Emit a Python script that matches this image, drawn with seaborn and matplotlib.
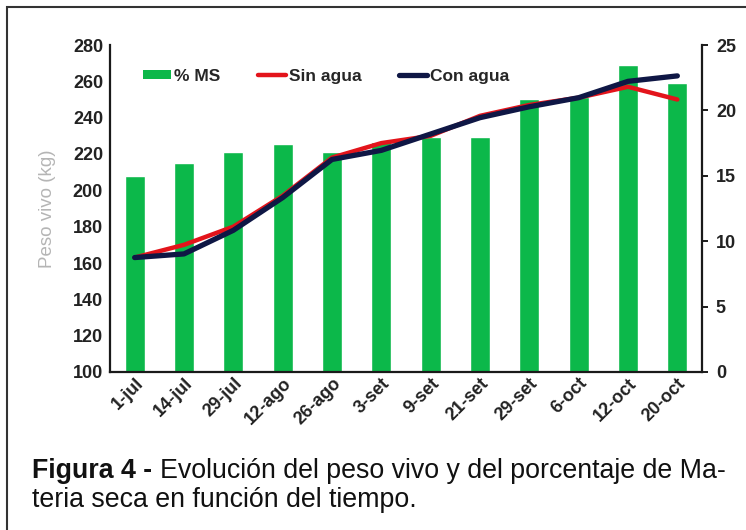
import matplotlib
matplotlib.use("Agg")
import matplotlib.pyplot as plt
import seaborn as sns
import numpy as np
import pandas as pd
from matplotlib.patches import Patch, Rectangle
from matplotlib.lines import Line2D

fechas = ["1-jul", "14-jul", "29-jul", "12-ago", "26-ago", "3-set",
          "9-set", "21-set", "29-set", "6-oct", "12-oct", "20-oct"]
ms_pct = [15.0, 16.0, 16.8, 17.4, 16.8, 17.6, 18.0, 18.0, 20.9, 21.0, 23.5, 22.1]
sin_agua = [163, 170, 180, 197, 218, 226, 230, 241, 247, 251, 257, 250]
con_agua = [163, 165, 178, 196, 217, 222, 231, 240, 246, 251, 260, 263]
left_ticks = list(range(100, 281, 20))
right_ticks = [0, 5, 10, 15, 20, 25]

GREEN = "#0cb84a"
RED = "#e3141b"
NAVY = "#0f1745"

sns.set_style("white")
plt.rcParams["font.family"] = ["Liberation Sans", "DejaVu Sans"]

fig = plt.figure(figsize=(7.46, 5.30), dpi=100)
ax = fig.add_axes([110/746, 1-372/530, (702-110)/746, (372-45)/530])

df = pd.DataFrame({"fecha": fechas, "ms": ms_pct,
                   "sin": sin_agua, "con": con_agua,
                   "pos": np.arange(len(fechas))})

sns.barplot(data=df, x="fecha", y="ms", ax=ax, color=GREEN, width=0.4,
            saturation=1, order=fechas)
ax.set_ylim(0, 25)
ax.set_yticks(right_ticks)
ax.yaxis.tick_right()
ax.set_xlabel("")
ax.set_ylabel("")

ax2 = ax.twinx()
sns.lineplot(data=df, x="pos", y="sin", ax=ax2, color=RED, linewidth=3.2, sort=False)
sns.lineplot(data=df, x="pos", y="con", ax=ax2, color=NAVY, linewidth=3.8, sort=False)
ax2.set_ylim(100, 280)
ax2.set_yticks(left_ticks)
ax2.yaxis.tick_left()
ax2.yaxis.set_label_position("left")
ax2.set_ylabel("Peso vivo (kg)", color="#b5b5b5", fontsize=13.5, labelpad=12)
ax2.set_xlim(-0.5, len(fechas) - 0.5)
ax2.set_xlabel("")

for a in (ax, ax2):
    for s in a.spines.values():
        s.set_visible(False)
for k in ("left", "bottom", "right"):
    ax2.spines[k].set_visible(True)
    ax2.spines[k].set_color("#1a1a1a")
    ax2.spines[k].set_linewidth(1.6)

ax.tick_params(axis="y", right=True, left=False, labelright=True, labelleft=False,
               length=4, width=1.4, labelsize=13, pad=6, color="#1a1a1a")
ax.tick_params(axis="x", bottom=False, length=0, labelsize=13, pad=2)
ax2.tick_params(axis="y", left=True, right=False, labelleft=True, labelright=False,
                length=0, labelsize=13, pad=5)
for lab in ax.get_yticklabels() + ax2.get_yticklabels():
    lab.set_fontweight("bold")
    lab.set_color("#222222")
for lab in ax.get_xticklabels():
    lab.set_rotation(45)
    lab.set_ha("right")
    lab.set_rotation_mode("anchor")
    lab.set_fontweight("bold")
    lab.set_color("#222222")

handles = [Patch(facecolor=GREEN, edgecolor="none"),
           Line2D([], [], color=RED, linewidth=3.2),
           Line2D([], [], color=NAVY, linewidth=3.8)]
leg = ax2.legend(handles, ["% MS", "Sin agua", "Con agua"], ncol=3,
                 loc="upper left", bbox_to_anchor=(0.03, 0.975), frameon=False,
                 prop={"weight": "bold", "size": 12.5}, handlelength=1.6,
                 handleheight=0.45, handletextpad=0.15, columnspacing=2.2)

CAP = 19.3
t1 = fig.text(32/746, 1-478/530, "Figura 4 - ", fontsize=CAP, fontweight="bold",
              va="baseline", color="#111111")
fig.canvas.draw()
bb = t1.get_window_extent(renderer=fig.canvas.get_renderer())
x2 = bb.x1 / fig.bbox.width
fig.text(x2, 1-478/530, "Evolución del peso vivo y del porcentaje de Ma-",
         fontsize=CAP, va="baseline", color="#111111")
fig.text(32/746, 1-507/530, "teria seca en función del tiempo.", fontsize=CAP,
         va="baseline", color="#111111")

fig.patches.append(Rectangle((7/746, -0.05), 1.2, 1-7/530+0.05,
                             transform=fig.transFigure, fill=False,
                             edgecolor="#333333", linewidth=1.5))

fig.savefig("out.png", dpi=100)
